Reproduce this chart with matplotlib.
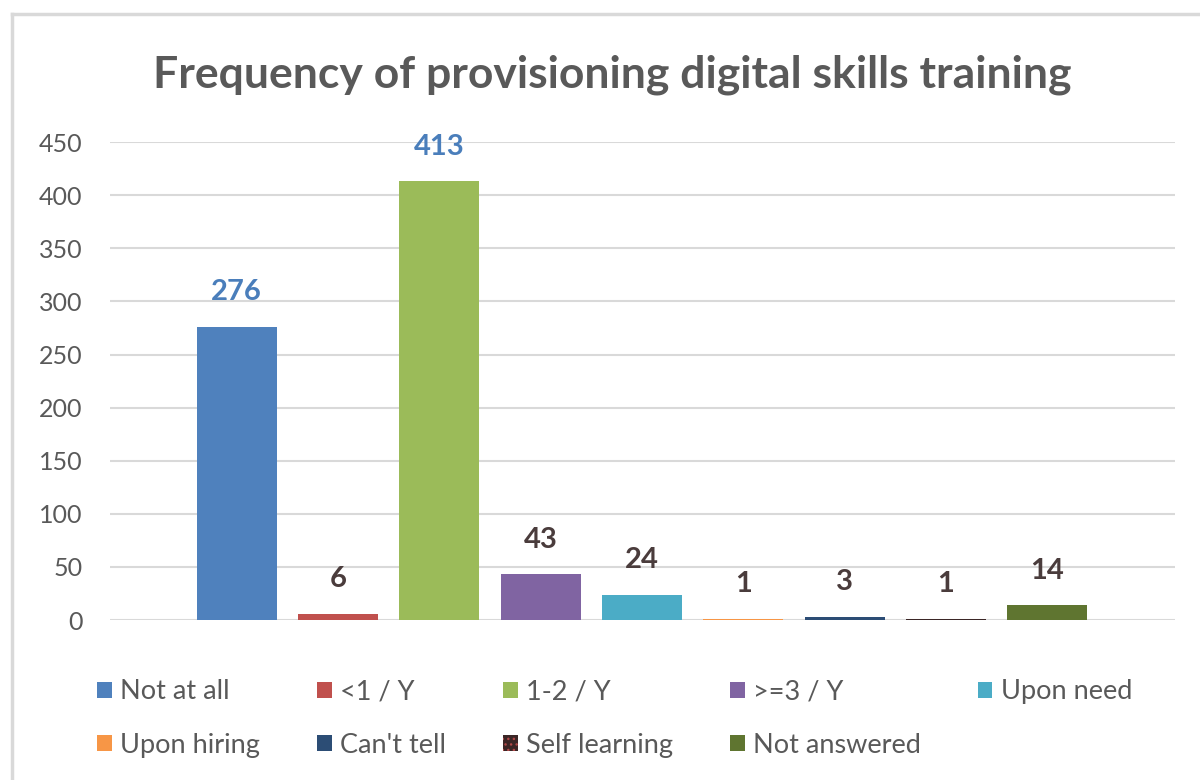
import matplotlib
matplotlib.use('Agg')
import matplotlib.pyplot as plt
from matplotlib.lines import Line2D

categories = ['Not at all', '<1 / Y', '1-2 / Y', '>=3 / Y', 'Upon need',
              'Upon hiring', "Can't tell", 'Self learning', 'Not answered']
counts = [276, 6, 413, 43, 24, 1, 3, 1, 14]
colors = ['#4f81bd', '#c0504d', '#9bbb59', '#8064a2', '#4bacc6',
          '#f79646', '#2c4d75', '#3b2626', '#5f7530']
label_colors = ['#4a7ebb', '#4a3c3c', '#4a7ebb', '#4a3c3c', '#4a3c3c',
                '#4a3c3c', '#4a3c3c', '#4a3c3c', '#4a3c3c']
yticks = [0, 50, 100, 150, 200, 250, 300, 350, 400, 450]

plt.rcParams['font.family'] = ['Lato', 'DejaVu Sans']
gray = '#595959'

fig = plt.figure(figsize=(12, 7.8), dpi=100)
ax = fig.add_axes([0.0917, 0.205, 0.8873, 0.6128])

handles = []
for i, (cat, val, col) in enumerate(zip(categories, counts, colors)):
    if cat == 'Self learning':
        b = ax.bar(i, val, width=0.79, color=col, edgecolor='#b04848',
                   hatch='...', linewidth=0, label=cat, zorder=3)
    else:
        b = ax.bar(i, val, width=0.79, color=col, linewidth=0, label=cat, zorder=3)
    handles.append(b)
    ax.annotate(str(val), (i, val), xytext=(0, 25), textcoords='offset points',
                ha='center', va='center', fontsize=21, fontweight='bold',
                color=label_colors[i])

ax.set_xlim(-1.25, len(categories) - 1 + 1.26)
ax.set_ylim(0, 450)
ax.set_yticks(yticks)
ax.set_xticks([])
ax.tick_params(axis='y', length=0, pad=20, labelsize=18, labelcolor=gray)
ax.grid(axis='y', color='#d9d9d9', linewidth=1.5, zorder=0)
for s in ax.spines.values():
    s.set_visible(False)

fig.text(0.51, 0.904, 'Frequency of provisioning digital skills training',
         ha='center', va='center', fontsize=32, fontweight='bold', color=gray)

order = [0, 5, 1, 6, 2, 7, 3, 8, 4]
fig.legend([handles[k] for k in order], [categories[k] for k in order],
           ncol=5, loc='upper left', bbox_to_anchor=(0.072, 0.143),
           frameon=False, fontsize=19.5, labelcolor=gray, handlelength=0.55,
           handleheight=0.55, handletextpad=0.3, columnspacing=2.1,
           labelspacing=1.05, borderaxespad=0)

# chart frame edges
fig.add_artist(Line2D([0.01, 1.0], [0.982, 0.982], color='#d9d9d9', linewidth=2.5))
fig.add_artist(Line2D([0.01, 0.01], [0.0, 0.982], color='#d9d9d9', linewidth=2.5))

fig.savefig('out.png', dpi=100)
